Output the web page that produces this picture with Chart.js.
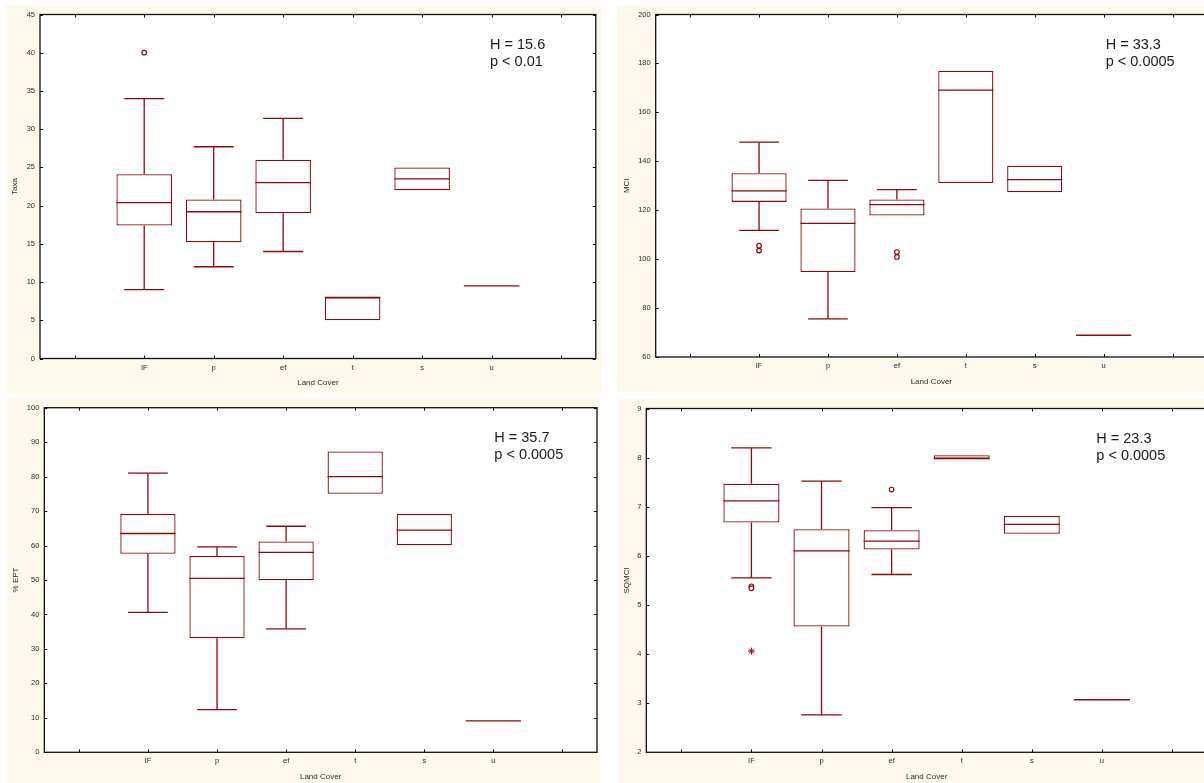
<!DOCTYPE html>
<html>
<head>
<meta charset="utf-8">
<script src="https://cdn.jsdelivr.net/npm/chart.js@4.4.0/dist/chart.umd.min.js"></script>
<style>
html, body { margin: 0; padding: 0; background: #fff; width: 1204px; height: 783px; overflow: hidden; }
.panel { position: absolute; background: #fdf9ed; }
.panel canvas { position: absolute; left: 0; top: 0; }
</style>
</head>
<body>
<div class="panel" style="left:6px;top:5px;width:595px;height:388px"><canvas id="taxa"></canvas></div>
<div class="panel" style="left:617px;top:5px;width:600px;height:387px"><canvas id="mci"></canvas></div>
<div class="panel" style="left:6px;top:398px;width:594px;height:385px"><canvas id="ept"></canvas></div>
<div class="panel" style="left:618px;top:399px;width:600px;height:384px"><canvas id="sqmci"></canvas></div>
<script>
// categories (two empty slots left and right like in the original)
const landCover = ['', 'IF', 'p', 'ef', 't', 's', 'u', ' '];
const groups = ['IF', 'p', 'ef', 't', 's', 'u'];

// Taxa
const taxaMin = [9, 12, 14, 5, 22, 9.5];
const taxaQ1 = [17.4, 15.2, 19.0, 5, 22, 9.5];
const taxaMed = [20.4, 19.2, 23.0, 8, 23.5, 9.5];
const taxaQ3 = [24.1, 20.8, 26.0, 8, 25, 9.5];
const taxaMax = [34, 27.7, 31.4, 8, 25, 9.5];
const taxaOutliers = [{ x: 'IF', y: 40 }];

// MCI
const mciMin = [111.8, 75.6, 117.8, 131.1, 127.3, 68.9];
const mciQ1 = [123.4, 94.7, 117.8, 131.1, 127.3, 68.9];
const mciMed = [127.9, 114.6, 122.3, 169.1, 132.5, 68.9];
const mciQ3 = [135.1, 120.7, 124.4, 177, 138.2, 68.9];
const mciMax = [147.8, 132.2, 128.4, 177, 138.2, 68.9];
const mciOutliers = [{ x: 'IF', y: 105.5 }, { x: 'IF', y: 103.5 }, { x: 'ef', y: 102.9 }, { x: 'ef', y: 100.9 }];

// % EPT
const eptMin = [40.6, 12.4, 35.8, 75, 60.1, 9.1];
const eptQ1 = [57.6, 33.1, 49.9, 75, 60.1, 9.1];
const eptMed = [63.5, 50.5, 58.0, 80.0, 64.5, 9.1];
const eptQ3 = [69.2, 57.0, 61.2, 87.3, 69.2, 9.1];
const eptMax = [81.0, 59.6, 65.6, 87.3, 69.2, 9.1];
const eptOutliers = [];

// SQMCI
const sqMin = [5.55, 2.76, 5.62, 7.98, 6.45, 3.07];
const sqQ1 = [6.68, 4.56, 6.13, 7.98, 6.45, 3.07];
const sqMed = [7.12, 6.10, 6.30, 7.98, 6.64, 3.07];
const sqQ3 = [7.47, 6.54, 6.52, 8.05, 6.81, 3.07];
const sqMax = [8.20, 7.52, 6.98, 8.05, 6.81, 3.07];
const sqOutliers = [{ x: 'IF', y: 5.38 }, { x: 'IF', y: 5.34 }, { x: 'ef', y: 7.35 }];
const sqExtremes = [{ x: 'IF', y: 4.06 }];

const RED = '#8b0a0a';
const FONT = "'Liberation Sans', Arial, sans-serif";
const INK = '#2a2a2a';

// whiskers, caps and median lines, placed on the bars computed by Chart.js
function boxPlugin(st) {
    return {
        id: 'boxWhiskers',
        afterDatasetsDraw(chart) {
            const ctx = chart.ctx;
            const y = chart.scales.y;
            const bars = chart.getDatasetMeta(0).data;
            const line = (x1, y1, x2, y2) => {
                ctx.beginPath();
                ctx.moveTo(x1, y1);
                ctx.lineTo(x2, y2);
                ctx.stroke();
            };
            ctx.save();
            ctx.strokeStyle = RED;
            ctx.lineWidth = 1.3;
            groups.forEach((g, i) => {
                const bar = bars[i];
                if (!bar) return;
                const cx = bar.x, hw = bar.width / 2, cw = hw * 0.72;
                const ym = y.getPixelForValue(st.med[i]);
                line(cx - hw, ym, cx + hw, ym);
                if (st.max[i] > st.q3[i]) {
                    const yt = y.getPixelForValue(st.max[i]);
                    line(cx, y.getPixelForValue(st.q3[i]), cx, yt);
                    line(cx - cw, yt, cx + cw, yt);
                }
                if (st.min[i] < st.q1[i]) {
                    const yb = y.getPixelForValue(st.min[i]);
                    line(cx, y.getPixelForValue(st.q1[i]), cx, yb);
                    line(cx - cw, yb, cx + cw, yb);
                }
            });
            ctx.restore();
        }
    };
}

// white plot area, frame with small inward ticks + the H / p text
function framePlugin(hText, pText) {
    return {
        id: 'frame',
        beforeDatasetsDraw(chart) {
            const a = chart.chartArea;
            const ctx = chart.ctx;
            ctx.save();
            ctx.fillStyle = '#ffffff';
            ctx.fillRect(a.left, a.top, a.right - a.left, a.bottom - a.top);
            ctx.restore();
        },
        afterDraw(chart) {
            const ctx = chart.ctx;
            const a = chart.chartArea;
            const x = chart.scales.x, y = chart.scales.y;
            ctx.save();
            ctx.strokeStyle = '#111';
            ctx.lineWidth = 1.3;
            ctx.strokeRect(a.left, a.top, a.right - a.left, a.bottom - a.top);
            ctx.lineWidth = 1;
            ctx.beginPath();
            landCover.forEach((l, i) => {
                const px = Math.round(x.getPixelForValue(i)) + 0.5;
                ctx.moveTo(px, a.bottom); ctx.lineTo(px, a.bottom - 3);
                ctx.moveTo(px, a.top); ctx.lineTo(px, a.top + 3);
            });
            y.ticks.forEach(t => {
                const py = Math.round(y.getPixelForValue(t.value)) + 0.5;
                ctx.moveTo(a.left, py); ctx.lineTo(a.left + 3, py);
                ctx.moveTo(a.right, py); ctx.lineTo(a.right - 3, py);
            });
            ctx.stroke();

            ctx.fillStyle = '#1a1a1a';
            ctx.font = '14.5px ' + FONT;
            ctx.textBaseline = 'alphabetic';
            ctx.fillText(hText, a.left + 450, a.top + 34.5);
            ctx.fillText(pText, a.left + 450, a.top + 51);
            ctx.restore();
        }
    };
}

function makePanel(id, geom, yTitle, yMin, yMax, yStep, st, outliers, extremes, hText, pText) {
    const canvas = document.getElementById(id);
    canvas.width = geom.w;
    canvas.height = geom.h;

    const boxes = groups.map((g, i) => ({ x: g, y: [st.q1[i], st.q3[i]] }));

    new Chart(canvas, {
        type: 'bar',
        data: {
            labels: landCover,
            datasets: [{
                data: boxes,
                backgroundColor: '#ffffff',
                borderColor: RED,
                borderWidth: 1.3,
                borderSkipped: false,
                barPercentage: 0.8,
                categoryPercentage: 1
            }, {
                type: 'scatter',
                data: outliers,
                pointStyle: 'circle',
                pointRadius: 2.3,
                pointBorderWidth: 1.2,
                pointBorderColor: RED,
                pointBackgroundColor: '#ffffff'
            }, {
                type: 'scatter',
                data: extremes,
                pointStyle: 'star',
                pointRadius: 3.5,
                pointBorderWidth: 1,
                pointBorderColor: RED
            }]
        },
        options: {
            responsive: false,
            animation: false,
            layout: {
                padding: { left: 0, top: geom.t - geom.y, right: geom.x + geom.w - geom.r, bottom: 0 }
            },
            plugins: { legend: { display: false }, tooltip: { enabled: false } },
            scales: {
                x: {
                    type: 'category',
                    offset: true,
                    grid: { display: false, drawTicks: false },
                    border: { display: false },
                    ticks: { color: INK, font: { family: FONT, size: 7.5 }, padding: 4.5, maxRotation: 0, autoSkip: false },
                    title: { display: true, text: 'Land Cover', color: INK, font: { family: FONT, size: 8 }, padding: { top: 0, bottom: geom.xtPad } },
                    afterFit(s) { s.height = geom.y + geom.h - geom.b; }
                },
                y: {
                    min: yMin,
                    max: yMax,
                    grid: { display: false, drawTicks: false },
                    border: { display: false },
                    ticks: { stepSize: yStep, color: INK, font: { family: FONT, size: 7.5 }, padding: 5 },
                    title: { display: true, text: yTitle, color: INK, font: { family: FONT, size: 8 }, padding: { top: geom.ytPad, bottom: 0 } },
                    afterFit(s) { s.width = geom.l - geom.x; }
                }
            }
        },
        plugins: [boxPlugin(st), framePlugin(hText, pText)]
    });
}

makePanel('taxa', { x: 6, y: 5, w: 595, h: 388, l: 40, t: 14, r: 596, b: 358.5, xtPad: 5, ytPad: 4 },
    'Taxa', 0, 45, 5,
    { min: taxaMin, q1: taxaQ1, med: taxaMed, q3: taxaQ3, max: taxaMax }, taxaOutliers, [],
    'H = 15.6', 'p < 0.01');

makePanel('mci', { x: 617, y: 5, w: 600, h: 387, l: 655.7, t: 14, r: 1207, b: 357, xtPad: 5, ytPad: 4.8 },
    'MCI', 60, 200, 20,
    { min: mciMin, q1: mciQ1, med: mciMed, q3: mciQ3, max: mciMax }, mciOutliers, [],
    'H = 33.3', 'p < 0.0005');

makePanel('ept', { x: 6, y: 398, w: 594, h: 385, l: 44.3, t: 407.7, r: 597, b: 752.3, xtPad: 1.5, ytPad: 4.6 },
    '% EPT', 0, 100, 10,
    { min: eptMin, q1: eptQ1, med: eptMed, q3: eptQ3, max: eptMax }, eptOutliers, [],
    'H = 35.7', 'p < 0.0005');

makePanel('sqmci', { x: 618, y: 399, w: 600, h: 384, l: 646.3, t: 407.7, r: 1207, b: 752.3, xtPad: 1.5, ytPad: 3.8 },
    'SQMCI', 2, 9, 1,
    { min: sqMin, q1: sqQ1, med: sqMed, q3: sqQ3, max: sqMax }, sqOutliers, sqExtremes,
    'H = 23.3', 'p < 0.0005');
</script>
</body>
</html>
